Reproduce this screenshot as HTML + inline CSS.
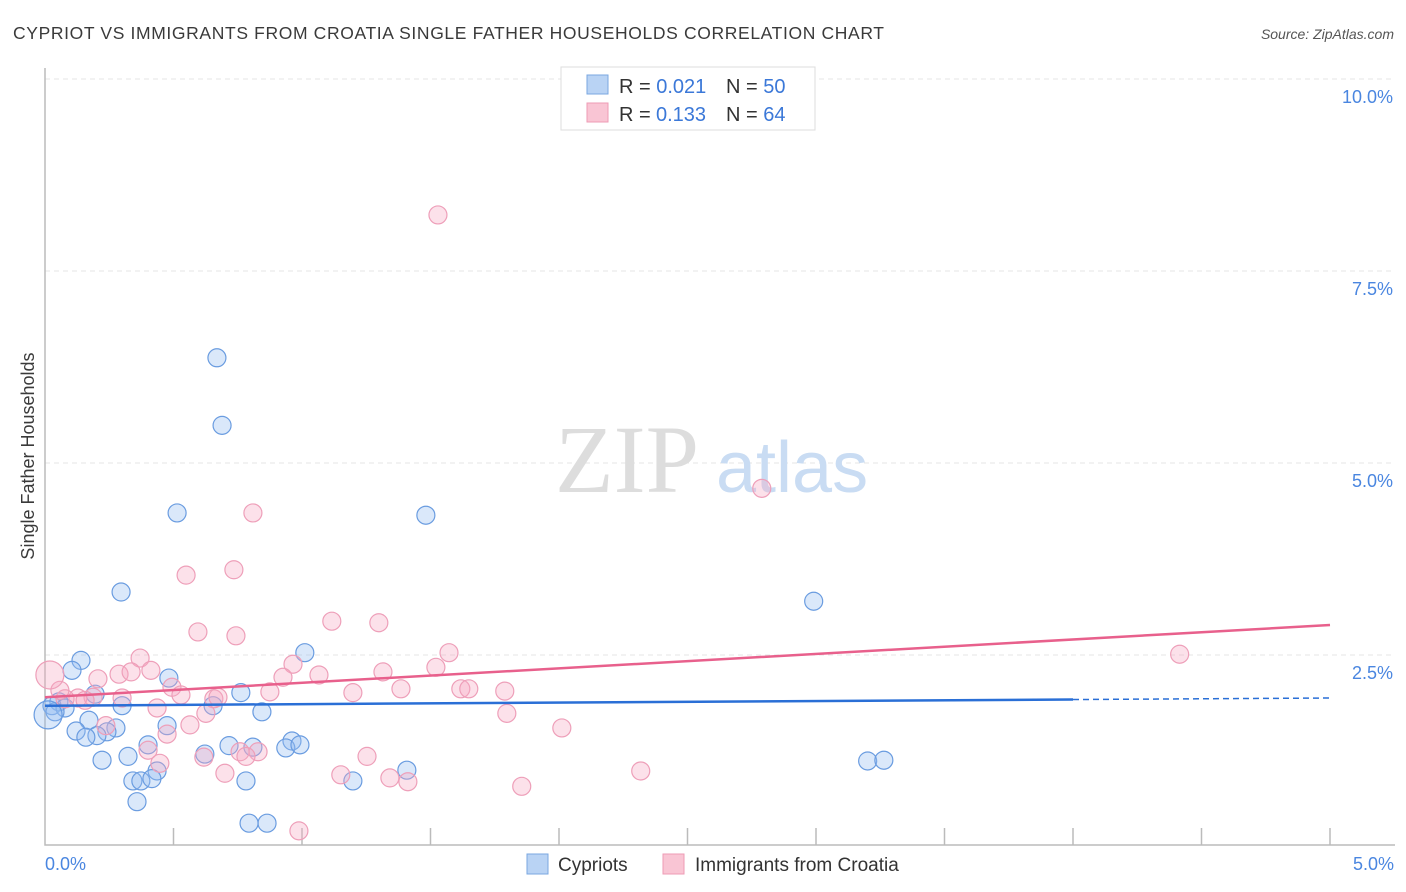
<!DOCTYPE html>
<html><head><meta charset="utf-8"><style>
body{margin:0;background:#fff;width:1406px;height:892px;overflow:hidden;font-family:"Liberation Sans",sans-serif}
svg{position:absolute;left:0;top:0}
</style></head><body>
<svg width="1406" height="892">
<text x="13" y="39" font-size="17.5" fill="#3a3a3a" textLength="871">CYPRIOT VS IMMIGRANTS FROM CROATIA SINGLE FATHER HOUSEHOLDS CORRELATION CHART</text>
<text x="1394" y="39" font-size="14" font-style="italic" fill="#555" text-anchor="end">Source: ZipAtlas.com</text>
<g id="grid"></g>
<text x="555" y="492" font-size="96" font-family="Liberation Serif,serif" fill="#ddd">ZIP</text>
<text x="716" y="492" font-size="72" fill="#c9dcf3">atlas</text>
<g id="pts"></g>
<g id="trend"></g>
<text transform="translate(34,456) rotate(-90)" font-size="18" fill="#3a3a3a" text-anchor="middle">Single Father Households</text>
<g>
<rect x="561" y="67" width="254" height="63" fill="#fff" stroke="#ddd"/>
<rect x="587" y="75" width="21" height="19" fill="#b9d3f4" stroke="#7aa7e0"/>
<rect x="587" y="103" width="21" height="19" fill="#f9c5d4" stroke="#ee9bb5"/>
<text x="619" y="93" font-size="20" fill="#333">R = <tspan fill="#3b78d8">0.021</tspan><tspan x="726">N = </tspan><tspan fill="#3b78d8">50</tspan></text>
<text x="619" y="121" font-size="20" fill="#333">R = <tspan x="656" fill="#3b78d8">0.133</tspan><tspan x="726">N = </tspan><tspan fill="#3b78d8">64</tspan></text>
</g>
<g>
<rect x="527" y="854" width="21" height="20" fill="#b9d3f4" stroke="#7aa7e0"/>
<text x="558" y="871" font-size="19" fill="#333">Cypriots</text>
<rect x="663" y="854" width="21" height="20" fill="#f9c5d4" stroke="#ee9bb5"/>
<text x="695" y="871" font-size="19" fill="#333">Immigrants from Croatia</text>
</g>
</svg>
<script>
const xTickLabels=["0.0%","5.0%"];
const yTickValues=[2.5,5,7.5,10];
const yTickLabels=["2.5%","5.0%","7.5%","10.0%"];
const blueX=[0.669,0.689,0.514,1.482,0.296,2.991,1.011,0.140,0.105,0.482,0.762,0.195,0.054,0.027,0.300,0.844,0.654,0.171,0.121,0.475,0.276,0.241,0.202,0.159,0.401,0.961,0.716,0.809,0.937,0.622,0.323,0.222,3.201,3.264,0.436,1.408,0.342,0.373,0.416,0.782,1.198,0.358,0.794,0.864,0.078,0.039,0.992,0.012];
const blueY=[6.37,5.49,4.35,4.32,3.32,3.20,2.53,2.43,2.30,2.20,2.01,1.99,1.89,1.84,1.84,1.76,1.84,1.65,1.51,1.58,1.55,1.50,1.45,1.43,1.33,1.38,1.32,1.30,1.29,1.21,1.18,1.13,1.12,1.13,0.99,1.00,0.86,0.86,0.89,0.86,0.86,0.59,0.31,0.31,1.81,1.76,1.33,1.72];
const pinkX=[1.529,2.789,0.809,0.549,0.735,1.116,1.299,0.595,0.743,0.370,1.572,0.965,4.415,1.521,1.315,0.288,0.206,0.412,0.335,0.926,1.066,0.494,1.618,1.649,1.385,1.789,0.529,0.875,1.198,0.300,0.187,0.128,0.078,0.657,0.673,0.626,0.436,1.797,2.011,0.564,0.475,0.237,0.401,0.447,0.618,0.759,0.829,0.782,1.253,0.700,1.151,1.342,1.412,2.318,1.855,0.988,0.058,0.156,0.019];
const pinkY=[8.23,4.67,4.35,3.54,3.61,2.94,2.92,2.80,2.75,2.46,2.53,2.38,2.51,2.34,2.28,2.25,2.19,2.30,2.28,2.21,2.24,2.08,2.06,2.06,2.06,2.03,1.98,2.02,2.01,1.94,1.95,1.94,1.93,1.93,1.95,1.74,1.81,1.74,1.55,1.59,1.47,1.58,1.26,1.09,1.17,1.24,1.24,1.18,1.18,0.96,0.94,0.90,0.85,0.99,0.79,0.21,2.04,1.91,2.24];
const blueTrend=[1.84,1.94];
const pinkTrend=[1.95,2.89];
const X=v=>45+v/5*1285, Y=v=>847-v*76.8;
const NS="http://www.w3.org/2000/svg";
function mk(p,t,a){const e=document.createElementNS(NS,t);for(const k in a)e.setAttribute(k,a[k]);p.appendChild(e);return e;}
const grid=document.getElementById('grid');
yTickValues.forEach((v,i)=>{
 const l=mk(grid,'line',{x1:45,x2:1395,y1:Y(v),y2:Y(v),stroke:'#e4e4e4','stroke-dasharray':'5,4'});
 
 
 const t=mk(grid,'text',{x:1393,y:Y(v)+24,'font-size':18,fill:'#4a86e0','text-anchor':'end'});
 t.textContent=yTickLabels[i];
 
 
});
const ax=mk(grid,'path',{d:'M45,68V845H1395',stroke:'#bbb',fill:'none','stroke-width':1.5});


for(let i=1;i<=10;i++){
 const tk=mk(grid,'line',{x1:X(i*0.5),x2:X(i*0.5),y1:828,y2:845,stroke:'#bbb','stroke-width':1.5});
 
 
}
[0,5].forEach((v,i)=>{
 const t=mk(grid,'text',{x:i?1394:45,y:870,'font-size':18,fill:'#4a86e0','text-anchor':i?'end':'start'});
 t.textContent=xTickLabels[i];
 
 
});
const pts=document.getElementById('pts');
blueX.forEach((x,i)=>{
 const c=mk(pts,'circle',{cx:X(x),cy:Y(blueY[i]),r:i==blueX.length-1?14:9,fill:'rgba(150,190,240,0.35)',stroke:'#6a9ce0','stroke-width':1.2});
 
 
});
pinkX.forEach((x,i)=>{
 const c=mk(pts,'circle',{cx:X(x),cy:Y(pinkY[i]),r:i==pinkX.length-1?14:9,fill:'rgba(246,170,195,0.35)',stroke:'#ee9fb9','stroke-width':1.2});
 
 
});
const tr=document.getElementById('trend');
const bs=blueTrend[0]+(blueTrend[1]-blueTrend[0])*0.8;
const b1=mk(tr,'line',{x1:X(0),y1:Y(blueTrend[0]),x2:X(4),y2:Y(bs),stroke:'#2a6fd6','stroke-width':2.5});


const b2=mk(tr,'line',{x1:X(4),y1:Y(bs),x2:X(5),y2:Y(blueTrend[1]),stroke:'#2a6fd6','stroke-width':1.5,'stroke-dasharray':'6,4'});


const p1=mk(tr,'line',{x1:X(0),y1:Y(pinkTrend[0]),x2:X(5),y2:Y(pinkTrend[1]),stroke:'#e8608c','stroke-width':2.5});


</script>
</body></html>
